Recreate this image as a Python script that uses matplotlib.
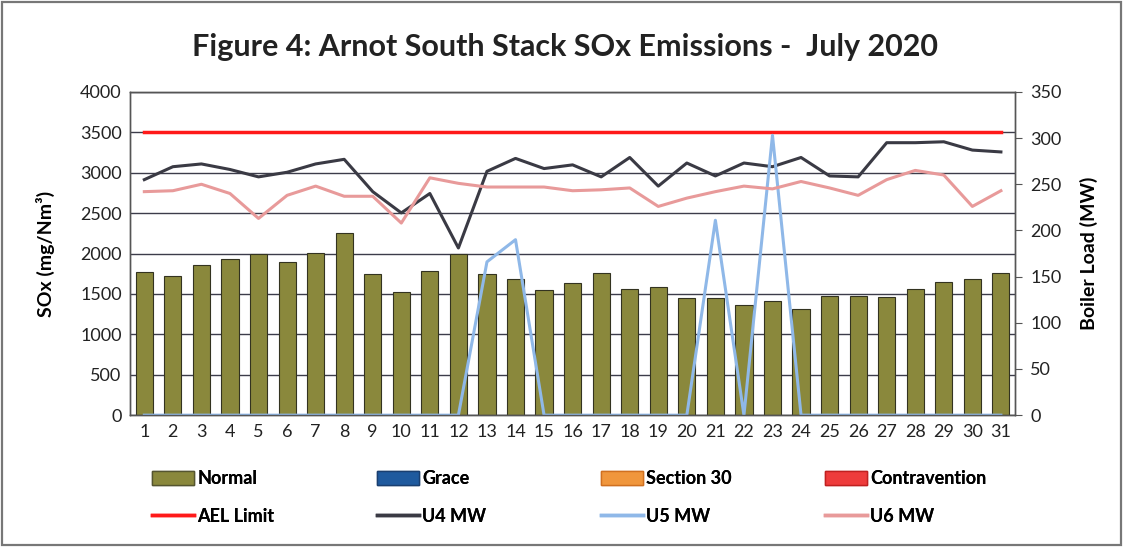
import matplotlib
matplotlib.use('Agg')
import matplotlib.pyplot as plt
from matplotlib.patches import Patch, Rectangle
from matplotlib.lines import Line2D

plt.rcParams['font.family'] = ['Lato', 'DejaVu Sans']

# data
days = list(range(1, 32))
sox_normal = [1770, 1720, 1860, 1930, 1995, 1895, 2005, 2250, 1745, 1530,
              1790, 1995, 1745, 1680, 1550, 1640, 1765, 1565, 1580, 1455,
              1455, 1365, 1415, 1315, 1475, 1475, 1465, 1565, 1645, 1685, 1765]
ael_limit = [3500] * 31
u4_mw = [255, 269, 272, 266, 258, 263, 272, 277, 242, 219,
         240, 181, 264, 278, 267, 271, 258, 279, 248, 273,
         259, 273, 269, 279, 259, 258, 295, 295, 296, 287, 285]
u5_mw = [0, 0, 0, 0, 0, 0, 0, 0, 0, 0,
         0, 0, 166, 190, 0, 0, 0, 0, 0, 0,
         211, 0, 303, 0, 0, 0, 0, 0, 0, 0, 0]
u6_mw = [242, 243, 250, 240, 213, 238, 248, 237, 237, 208,
         257, 251, 247, 247, 247, 243, 244, 246, 226, 235,
         242, 248, 245, 253, 246, 238, 255, 265, 260, 226, 243]

c_normal = '#8a883c'
c_grace = '#1f5a9e'
c_s30 = '#f0963c'
c_contra = '#ee3b3b'
c_ael = '#ff1a1a'
c_u4 = '#3a3a44'
c_u5 = '#8fb8e8'
c_u6 = '#e89a9a'

fig = plt.figure(figsize=(11.23, 5.47), dpi=100)
ax = fig.add_axes([0.1158, 0.241, 0.7882, 0.591])
ax2 = ax.twinx()

ax.set_axisbelow(True)
ax.bar(days, sox_normal, width=0.6, color=c_normal, edgecolor='#333320', linewidth=0.8, zorder=2)
ax.plot(days, ael_limit, color=c_ael, linewidth=2.5, zorder=3)
ax.set_ylim(0, 4000)
ax.set_xlim(0.5, 31.5)
ax.set_yticks(range(0, 4001, 500))
ax.set_xticks(days)
ax.yaxis.grid(True, color='#3c3c4a', linewidth=1.0)
ax.tick_params(axis='both', labelsize=13, length=0, pad=6, labelcolor='#222222')
ax.set_ylabel('SOx (mg/Nm³)', fontsize=14, fontweight='bold', labelpad=18)

ax2.plot(days, u4_mw, color=c_u4, linewidth=2.2)
ax2.plot(days, u5_mw, color=c_u5, linewidth=2.2)
ax2.plot(days, u6_mw, color=c_u6, linewidth=2.2)
ax2.set_ylim(0, 350)
ax2.set_yticks(range(0, 351, 50))
ax2.tick_params(axis='y', labelsize=13, length=5, direction='out', color='#555555', pad=6,
                labelcolor='#222222')
ax2.set_ylabel('Boiler Load (MW)', fontsize=14, fontweight='bold', labelpad=13)

for a in (ax, ax2):
    for s in a.spines.values():
        s.set_color('#555555')
        s.set_linewidth(1.0)

fig.text(0.503, 0.914, 'Figure 4: Arnot South Stack SOx Emissions -  July 2020',
         ha='center', va='center', fontsize=22, fontweight='bold', color='#222222')

# legend: four columns placed where the reference has them
cols = [
    ([Patch(facecolor=c_normal, edgecolor='#555530'), Line2D([], [], color=c_ael, lw=2.5)],
     ['Normal', 'AEL Limit'], 152),
    ([Patch(facecolor=c_grace, edgecolor='#1a3f70'), Line2D([], [], color=c_u4, lw=2.5)],
     ['Grace', 'U4 MW'], 377),
    ([Patch(facecolor=c_s30, edgecolor='#d07020'), Line2D([], [], color=c_u5, lw=2.5)],
     ['Section 30', 'U5 MW'], 601),
    ([Patch(facecolor=c_contra, edgecolor='#c02020'), Line2D([], [], color=c_u6, lw=2.5)],
     ['Contravention', 'U6 MW'], 825),
]
for h, l, xpix in cols:
    leg = fig.legend(h, l, loc='center left', bbox_to_anchor=(xpix / 1123, 1 - 497.5 / 547),
                     frameon=False, handlelength=2.3, handleheight=0.8, handletextpad=0.2,
                     labelspacing=1.15, borderpad=0, borderaxespad=0,
                     prop={'size': 13, 'weight': 'bold'})
    fig.add_artist(leg)

fig.patches.append(Rectangle((0.002, 0.003), 0.996, 0.994, transform=fig.transFigure,
                             fill=False, edgecolor='#777777', linewidth=1.6))

fig.savefig('out.png', dpi=100)
